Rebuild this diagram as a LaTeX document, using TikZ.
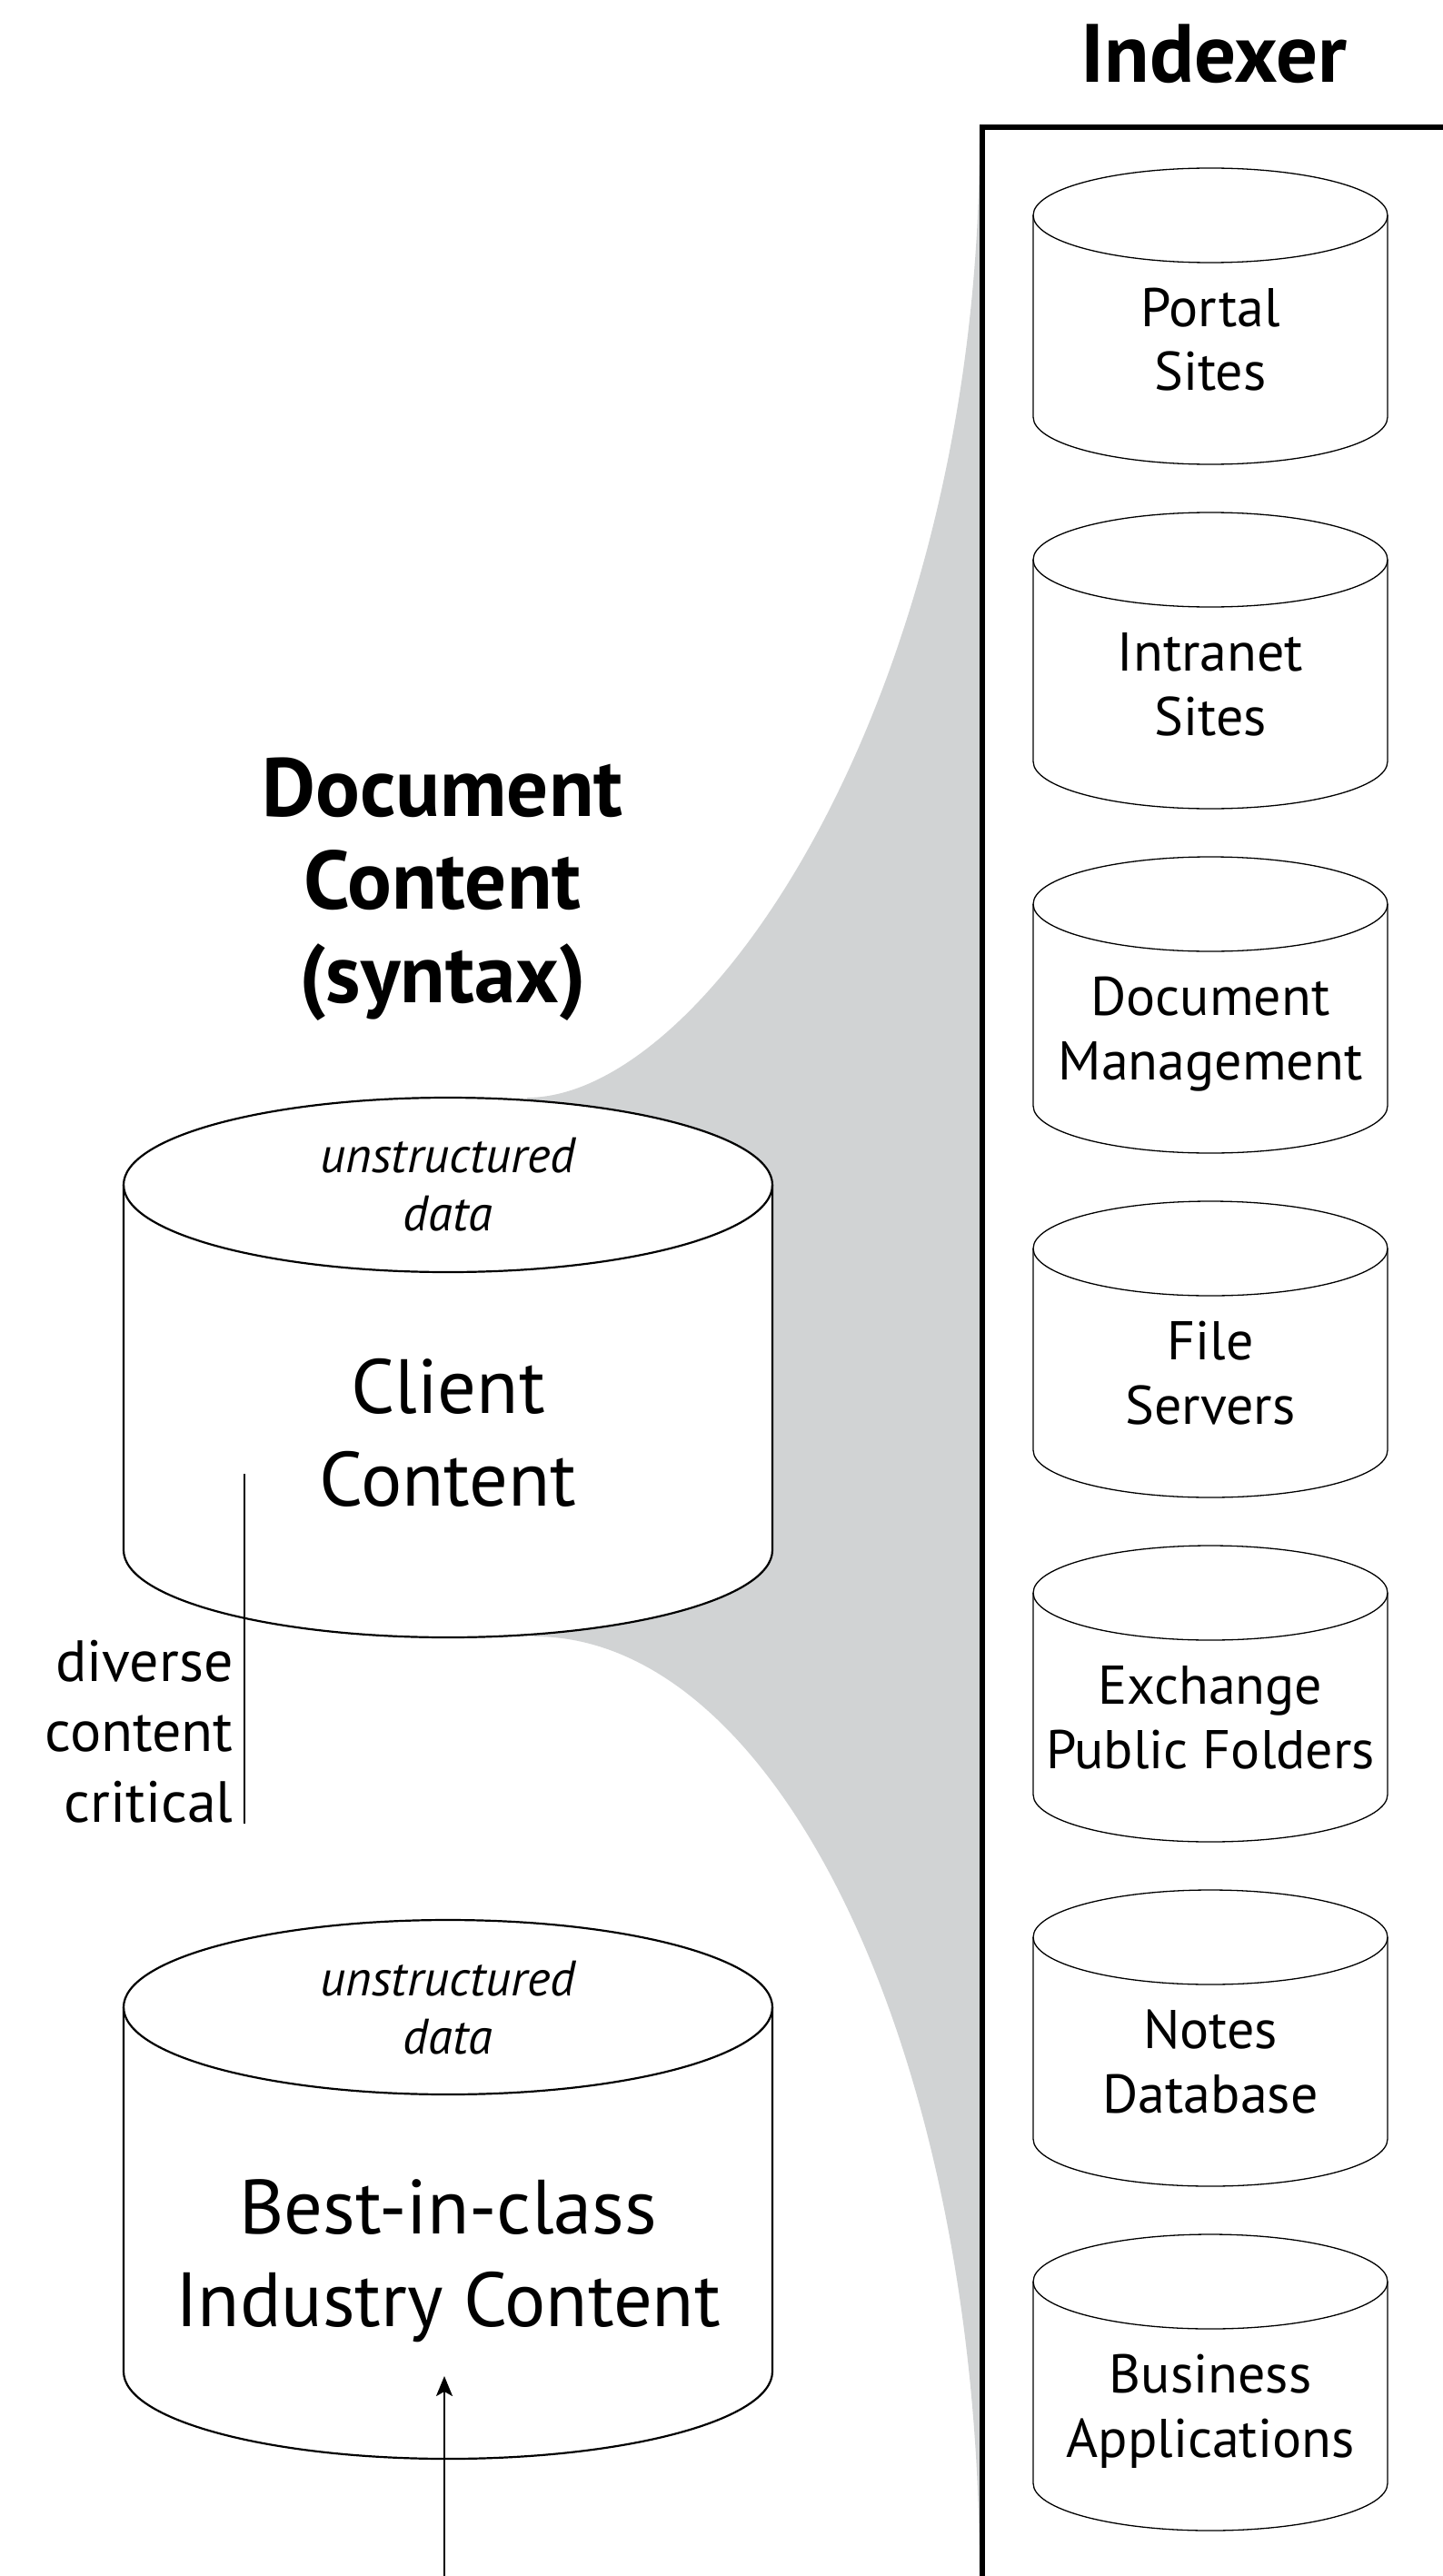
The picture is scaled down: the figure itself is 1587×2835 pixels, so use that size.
\documentclass[tikz,border=0pt]{standalone}
\usepackage{fontspec}
\setmainfont{PT Sans}
\usetikzlibrary{arrows.meta}
\definecolor{fanshade}{RGB}{209,211,212}

% #1 style, #2 centre x, #3 top rim y, #4 bottom rim y, #5 x radius, #6 y radius (px)
\newcommand\drum[6]{%
  \path[#1] ({#2-#5},#3) -- ({#2-#5},#4)
    arc[start angle=180,end angle=360,x radius={#5*0.5pt},y radius={#6*0.5pt}]
    -- ({#2+#5},#3)
    arc[start angle=0,end angle=180,x radius={#5*0.5pt},y radius={#6*0.5pt}] -- cycle;
  \draw[#1,fill=none] ({#2-#5},#3)
    arc[start angle=180,end angle=360,x radius={#5*0.5pt},y radius={#6*0.5pt}];
}

% multi-line labels are placed by the baseline of their last line
\tikzset{
  drumbig/.style={draw=black,fill=white,line width=1.1pt},
  drumsmall/.style={draw=black,fill=white,line width=0.65pt},
  frameline/.style={line width=2.75pt},
  headtext/.style={font=\bfseries\fontsize{45.5}{51.25}\selectfont,align=center,anchor=base,inner sep=0pt},
  storetext/.style={font=\fontsize{30}{35.5}\selectfont,align=center,anchor=base,inner sep=0pt},
  bigtext/.style={font=\fontsize{42.3}{51}\selectfont,align=center,anchor=base,inner sep=0pt},
  datatext/.style={font=\itshape\fontsize{27.4}{32}\selectfont,align=center,anchor=base,inner sep=0pt},
  notetext/.style={font=\fontsize{32}{38.75}\selectfont,align=right,anchor=base east,inner sep=0pt},
  thinrule/.style={line width=1pt},
  feedarrow/.style={line width=1pt,-{Stealth[length=11pt,width=9pt,inset=2.5pt]}}
}

\begin{document}
\begin{tikzpicture}[x=0.5pt,y=-0.5pt]
  \useasboundingbox (0,0) rectangle (1587,2835);
  \fill[white] (0,0) rectangle (1587,2835);

  % shaded fan from the client store to the indexer
  \fill[fanshade] (580,1208) .. controls (780,1208) and (1078,760) .. (1078,150)
    -- (1078,2835) .. controls (1078,2264) and (858,1801) .. (588,1801) -- cycle;

  % indexer frame
  \draw[frameline] (1081,2845) -- (1081,140) -- (1600,140);
  \node[headtext] (indexer) at (1336,91) {Indexer};

  % indexed sources
  \foreach \ty/\nm/\txt in {
      237/portal/{Portal\\Sites},
      616/intranet/{Intranet\\Sites},
      995/docmgmt/{Document\\Management},
      1374/fileserv/{File\\Servers},
      1753/exchange/{Exchange\\Public Folders},
      2132/notes/{Notes\\Database},
      2511/bizapps/{Business\\Applications}} {
    \drum{drumsmall}{1332}{\ty}{\ty+222}{195}{52}
    \node[storetext] (\nm) at (1332,\ty+193) {\txt};
  }

  % document content title
  \node[headtext] (doctitle) at (487,1103) {Document\\Content\\(syntax)};

  % client content store
  \drum{drumbig}{493}{1304}{1706}{357}{96}
  \node[datatext] (clientdata) at (493,1354) {unstructured\\data};
  \node[bigtext] (client) at (493,1657) {Client\\Content};

  % side note
  \node[notetext] (diverse) at (257,2005) {diverse\\content\\critical};
  \coordinate (critTop) at (269,1622);
  \coordinate (critBot) at (269,2007);
  \draw[thinrule] (critTop) -- (critBot);

  % industry content store
  \drum{drumbig}{493}{2209}{2610}{357}{96}
  \node[datatext] (bestdata) at (493,2260) {unstructured\\data};
  \node[bigtext] (best) at (493,2560) {Best-in-class\\Industry Content};

  % incoming feed
  \coordinate (feed) at (489,2845);
  \coordinate (feedTip) at (489,2615);
  \draw[feedarrow] (feed) -- (feedTip);
\end{tikzpicture}
\end{document}
